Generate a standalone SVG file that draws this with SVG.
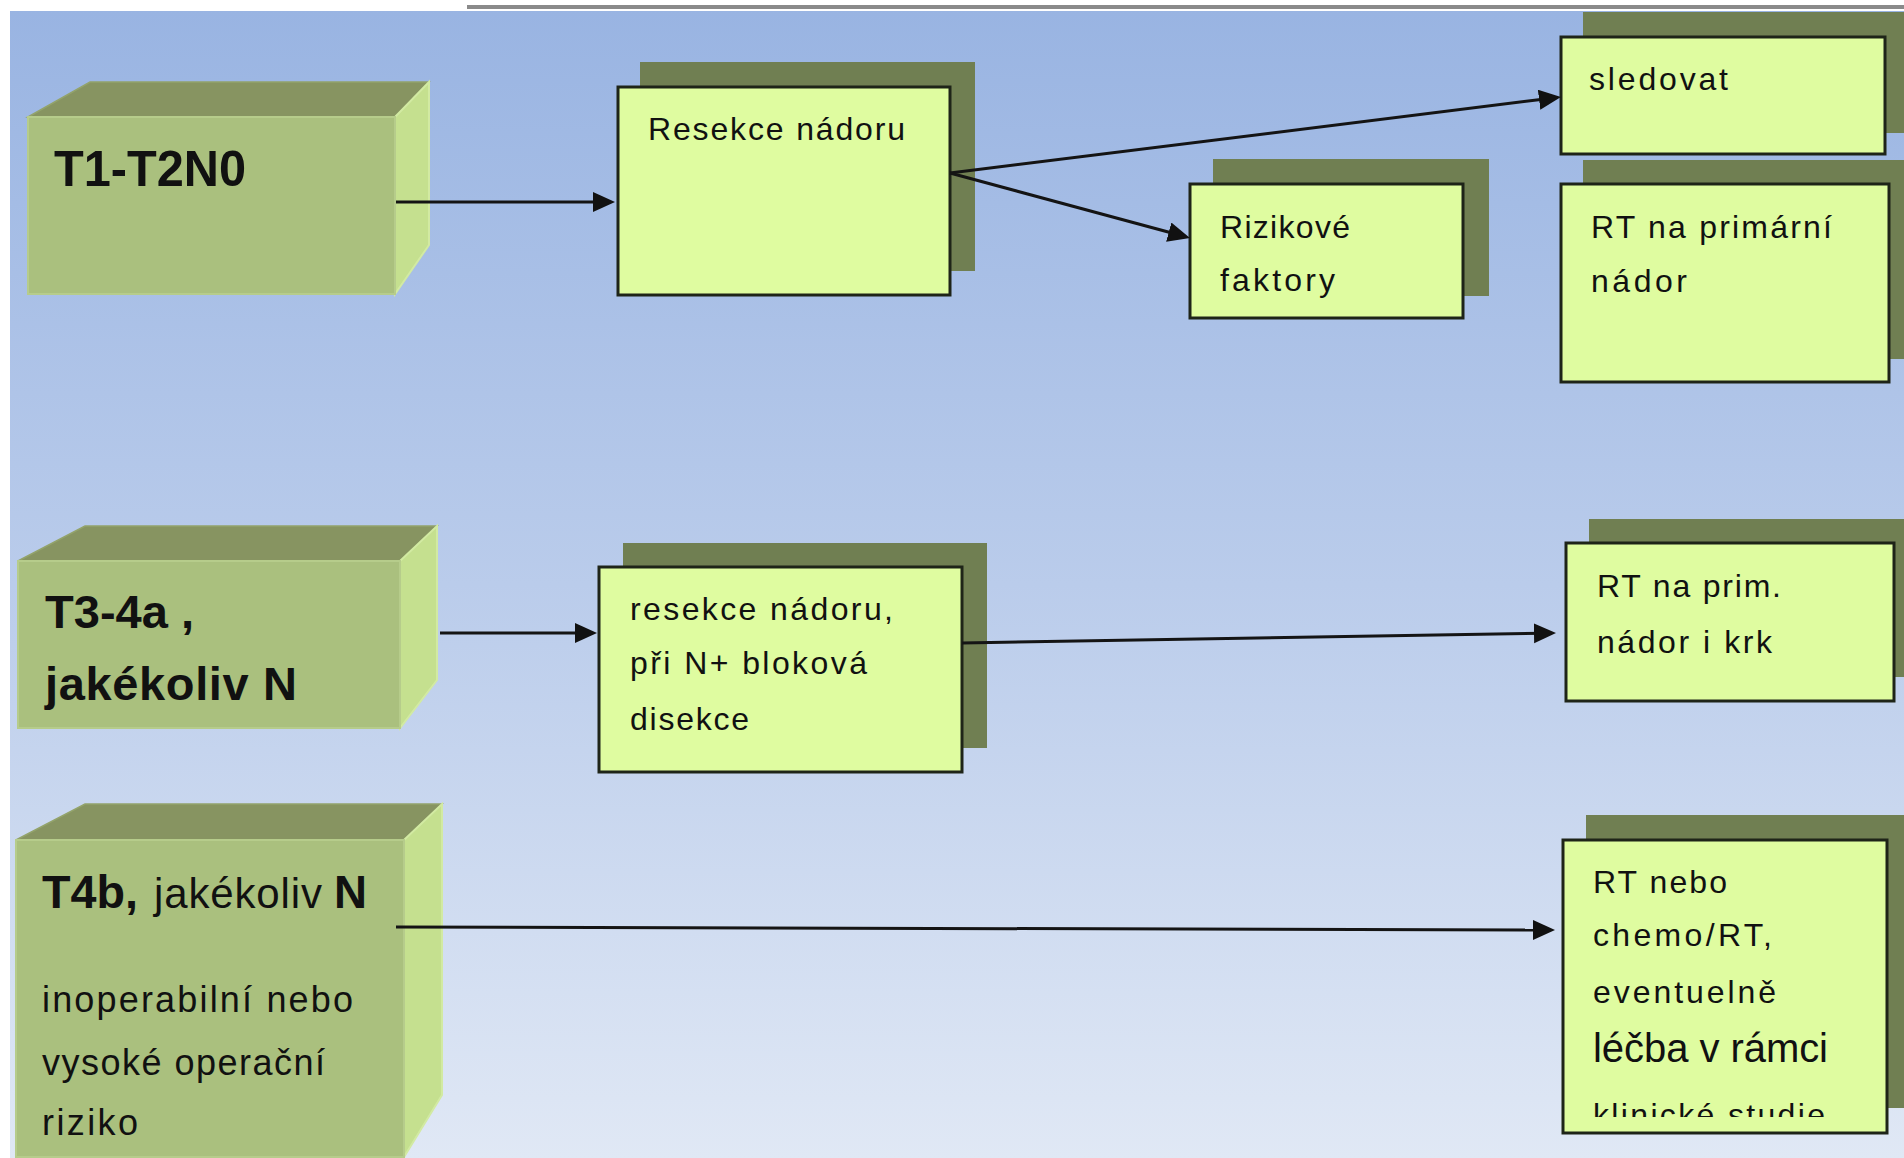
<svg xmlns="http://www.w3.org/2000/svg" width="1904" height="1158" viewBox="0 0 1904 1158">
  <defs>
    <linearGradient id="bg" x1="0" y1="0" x2="0" y2="1">
      <stop offset="0" stop-color="#99B4E2"/>
      <stop offset="0.5" stop-color="#BACCEB"/>
      <stop offset="1" stop-color="#E0E8F5"/>
    </linearGradient>
    <marker id="head" markerUnits="userSpaceOnUse" markerWidth="24" markerHeight="22" refX="10" refY="10" orient="auto">
      <path d="M0,0 L22,10 L0,20 Z" fill="#111"/>
    </marker>
    <clipPath id="clipStudy">
      <rect x="1563" y="840" width="324" height="277"/>
    </clipPath>
  </defs>
  <style>
    .front { fill: #AAC07E; stroke: #B6CC8B; stroke-width: 2; }
    .top { fill: #879461; stroke: #93A36B; stroke-width: 1.5; }
    .side { fill: #C5E08F; stroke: #D2EAA2; stroke-width: 2; }
    .shadow { fill: #707F52; }
    .card { fill: #DFFCA0; stroke: #1E2418; stroke-width: 3; }
    .head { font-family: "Liberation Sans", Arial, sans-serif; font-weight: bold; fill: #111; }
    .plain { font-family: "Liberation Sans", Arial, sans-serif; fill: #111; }
    .lbl { font-family: "Liberation Sans", Arial, sans-serif; font-size: 32px; fill: #111; }
    .link { stroke: #141414; stroke-width: 3; fill: none; marker-end: url(#head); }
  </style>

  <!-- backdrop -->
  <rect x="0" y="0" width="1904" height="1158" fill="#FFFFFF"/>
  <rect x="10" y="11" width="1894" height="1147" fill="url(#bg)"/>
  <rect x="467" y="5" width="1437" height="4" fill="#8A8A8A"/>

  <!-- stage cubes -->
  <g id="cube-t1t2n0">
    <polygon class="top" points="28,117 90,82 429,82 395,117"/>
    <polygon class="side" points="395,117 429,82 429,245 395,294"/>
    <rect class="front" x="28" y="117" width="367" height="177"/>
    <text class="head" x="54" y="186" font-size="50" textLength="192" lengthAdjust="spacingAndGlyphs">T1-T2N0</text>
  </g>

  <g id="cube-t3t4a">
    <polygon class="top" points="18,561 85,526 437,526 400,561"/>
    <polygon class="side" points="400,561 437,526 437,680 400,728"/>
    <rect class="front" x="18" y="561" width="382" height="167"/>
    <text class="head" x="45" y="628" font-size="47" textLength="149" lengthAdjust="spacingAndGlyphs">T3-4a ,</text>
    <text class="head" x="45" y="700" font-size="47" textLength="252">jakékoliv N</text>
  </g>

  <g id="cube-t4b">
    <polygon class="top" points="16,840 85,804 442,804 404,840"/>
    <polygon class="side" points="404,840 442,804 442,1095 404,1157"/>
    <rect class="front" x="16" y="840" width="388" height="317"/>
    <text class="head" x="42" y="908" font-size="47" textLength="96" lengthAdjust="spacingAndGlyphs">T4b,</text>
    <text class="plain" x="154" y="908" font-size="42" textLength="168">jakékoliv</text>
    <text class="head" x="334" y="908" font-size="47" textLength="33" lengthAdjust="spacingAndGlyphs">N</text>
    <text class="plain" x="42" y="1012" font-size="36" textLength="311">inoperabilní nebo</text>
    <text class="plain" x="42" y="1075" font-size="36" textLength="283">vysoké operační</text>
    <text class="plain" x="42" y="1135" font-size="36" textLength="96">riziko</text>
  </g>

  <!-- treatment cards -->
  <g id="card-resekce">
    <rect class="shadow" x="640" y="62" width="335" height="209"/>
    <rect class="card" x="618" y="87" width="332" height="208"/>
    <text class="lbl" x="648" y="140" textLength="257">Resekce nádoru</text>
  </g>

  <g id="card-rizikove">
    <rect class="shadow" x="1213" y="159" width="276" height="137"/>
    <rect class="card" x="1190" y="184" width="273" height="134"/>
    <text class="lbl" x="1220" y="238" textLength="130">Rizikové</text>
    <text class="lbl" x="1220" y="291" textLength="115">faktory</text>
  </g>

  <g id="card-sledovat">
    <rect class="shadow" x="1583" y="12" width="330" height="121"/>
    <rect class="card" x="1561" y="37" width="324" height="117"/>
    <text class="lbl" x="1589" y="90" textLength="139">sledovat</text>
  </g>

  <g id="card-rt-primarni">
    <rect class="shadow" x="1583" y="160" width="330" height="199"/>
    <rect class="card" x="1561" y="184" width="328" height="198"/>
    <text class="lbl" x="1591" y="238" textLength="241">RT na primární</text>
    <text class="lbl" x="1591" y="292" textLength="96">nádor</text>
  </g>

  <g id="card-resekce-disekce">
    <rect class="shadow" x="623" y="543" width="364" height="205"/>
    <rect class="card" x="599" y="567" width="363" height="205"/>
    <text class="lbl" x="630" y="620" textLength="263">resekce nádoru,</text>
    <text class="lbl" x="630" y="674" textLength="237">při N+ bloková</text>
    <text class="lbl" x="630" y="730" textLength="119">disekce</text>
  </g>

  <g id="card-rt-krk">
    <rect class="shadow" x="1589" y="519" width="330" height="158"/>
    <rect class="card" x="1566" y="543" width="328" height="158"/>
    <text class="lbl" x="1597" y="597" textLength="184">RT na prim.</text>
    <text class="lbl" x="1597" y="653" textLength="175">nádor i krk</text>
  </g>

  <g id="card-rt-chemo">
    <rect class="shadow" x="1586" y="815" width="330" height="293"/>
    <rect class="card" x="1563" y="840" width="324" height="293"/>
    <text class="lbl" x="1593" y="893" textLength="134">RT nebo</text>
    <text class="lbl" x="1593" y="946" textLength="179">chemo/RT,</text>
    <text class="lbl" x="1593" y="1003" textLength="183">eventuelně</text>
    <text class="plain" x="1593" y="1062" font-size="40" textLength="235">léčba v rámci</text>
    <text class="lbl" x="1593" y="1126" textLength="232" clip-path="url(#clipStudy)">klinické studie</text>
  </g>

  <!-- connectors -->
  <g id="connectors">
    <line class="link" x1="396" y1="202" x2="603" y2="202"/>
    <line class="link" x1="950" y1="173" x2="1549" y2="98.5"/>
    <line class="link" x1="950" y1="173" x2="1178.4" y2="234.8"/>
    <line class="link" x1="440" y1="633" x2="585" y2="633"/>
    <line class="link" x1="962" y1="643" x2="1544" y2="633.2"/>
    <line class="link" x1="396" y1="927" x2="1543" y2="930"/>
  </g>
</svg>
